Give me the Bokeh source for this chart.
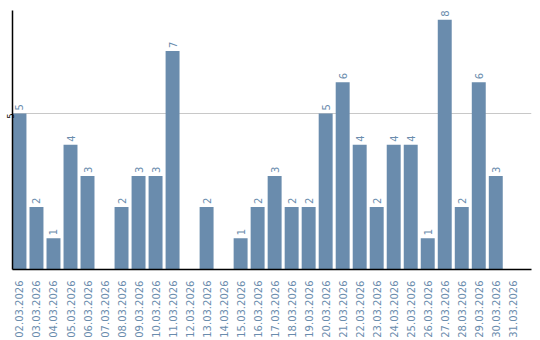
import math
from bokeh.plotting import figure
from bokeh.models import ColumnDataSource, Range1d, FixedTicker
from bokeh.core.properties import value
from bokeh.embed import file_html
from bokeh.resources import INLINE

dates = ["02.03.2026", "03.03.2026", "04.03.2026", "05.03.2026", "06.03.2026",
         "07.03.2026", "08.03.2026", "09.03.2026", "10.03.2026", "11.03.2026",
         "12.03.2026", "13.03.2026", "14.03.2026", "15.03.2026", "16.03.2026",
         "17.03.2026", "18.03.2026", "19.03.2026", "20.03.2026", "21.03.2026",
         "22.03.2026", "23.03.2026", "24.03.2026", "25.03.2026", "26.03.2026",
         "27.03.2026", "28.03.2026", "29.03.2026", "30.03.2026", "31.03.2026"]
counts = [5, 2, 1, 4, 3, 0, 2, 3, 3, 7, 0, 2, 0, 1, 2, 3, 2, 2, 5, 6,
          4, 2, 4, 4, 1, 8, 2, 6, 3, 0]
y_ticks = [5]

BAR = "#6a8cad"
LABEL = "#6a8cad"
FONT = "DejaVu Sans"

xs = list(range(len(dates)))
src = ColumnDataSource(dict(x=xs, y=counts))
lab_idx = [i for i, c in enumerate(counts) if c > 0]
lab_src = ColumnDataSource(dict(x=[xs[i] for i in lab_idx],
                                y=[counts[i] for i in lab_idx],
                                t=[str(counts[i]) for i in lab_idx]))

p = figure(width=540, height=340, output_backend="svg", toolbar_location=None,
           x_range=Range1d(-0.41, 30.1), y_range=Range1d(0, 8.3),
           min_border_left=0, min_border_right=9, min_border_top=10,
           min_border_bottom=71)
p.outline_line_color = None
p.background_fill_color = "white"

p.vbar(x="x", top="y", width=0.82, source=src, fill_color=BAR, line_color=None)

p.text(x="x", y="y", text="t", source=lab_src, angle=math.pi / 2,
       text_align="left", text_baseline="middle", y_offset=-3,
       text_font=value(FONT), text_font_size="10px", text_color=LABEL)

p.xgrid.visible = False
p.ygrid.ticker = FixedTicker(ticks=y_ticks)
p.ygrid.grid_line_color = "#c8c8c8"

p.xaxis.ticker = FixedTicker(ticks=xs)
p.xaxis.major_label_overrides = {i: d for i, d in enumerate(dates)}
p.xaxis.major_label_orientation = math.pi / 2
p.xaxis.major_label_text_font = FONT
p.xaxis.major_label_text_font_size = "10px"
p.xaxis.major_label_text_color = LABEL
p.xaxis.major_tick_line_color = None
p.xaxis.minor_tick_line_color = None
p.xaxis.major_label_standoff = 5
p.xaxis.axis_line_color = "black"
p.xaxis.axis_line_width = 1.5

p.yaxis.ticker = FixedTicker(ticks=y_ticks)
p.yaxis.major_label_orientation = math.pi / 2
p.yaxis.major_label_text_font = FONT
p.yaxis.major_label_text_font_size = "8px"
p.yaxis.major_label_text_color = "black"
p.yaxis.major_tick_line_color = None
p.yaxis.minor_tick_line_color = None
p.yaxis.major_tick_out = 0
p.yaxis.major_tick_in = 0
p.yaxis.major_label_standoff = 2
p.yaxis.axis_line_color = "black"
p.yaxis.axis_line_width = 1.5

open("out.html", "w").write(file_html(p, INLINE))
